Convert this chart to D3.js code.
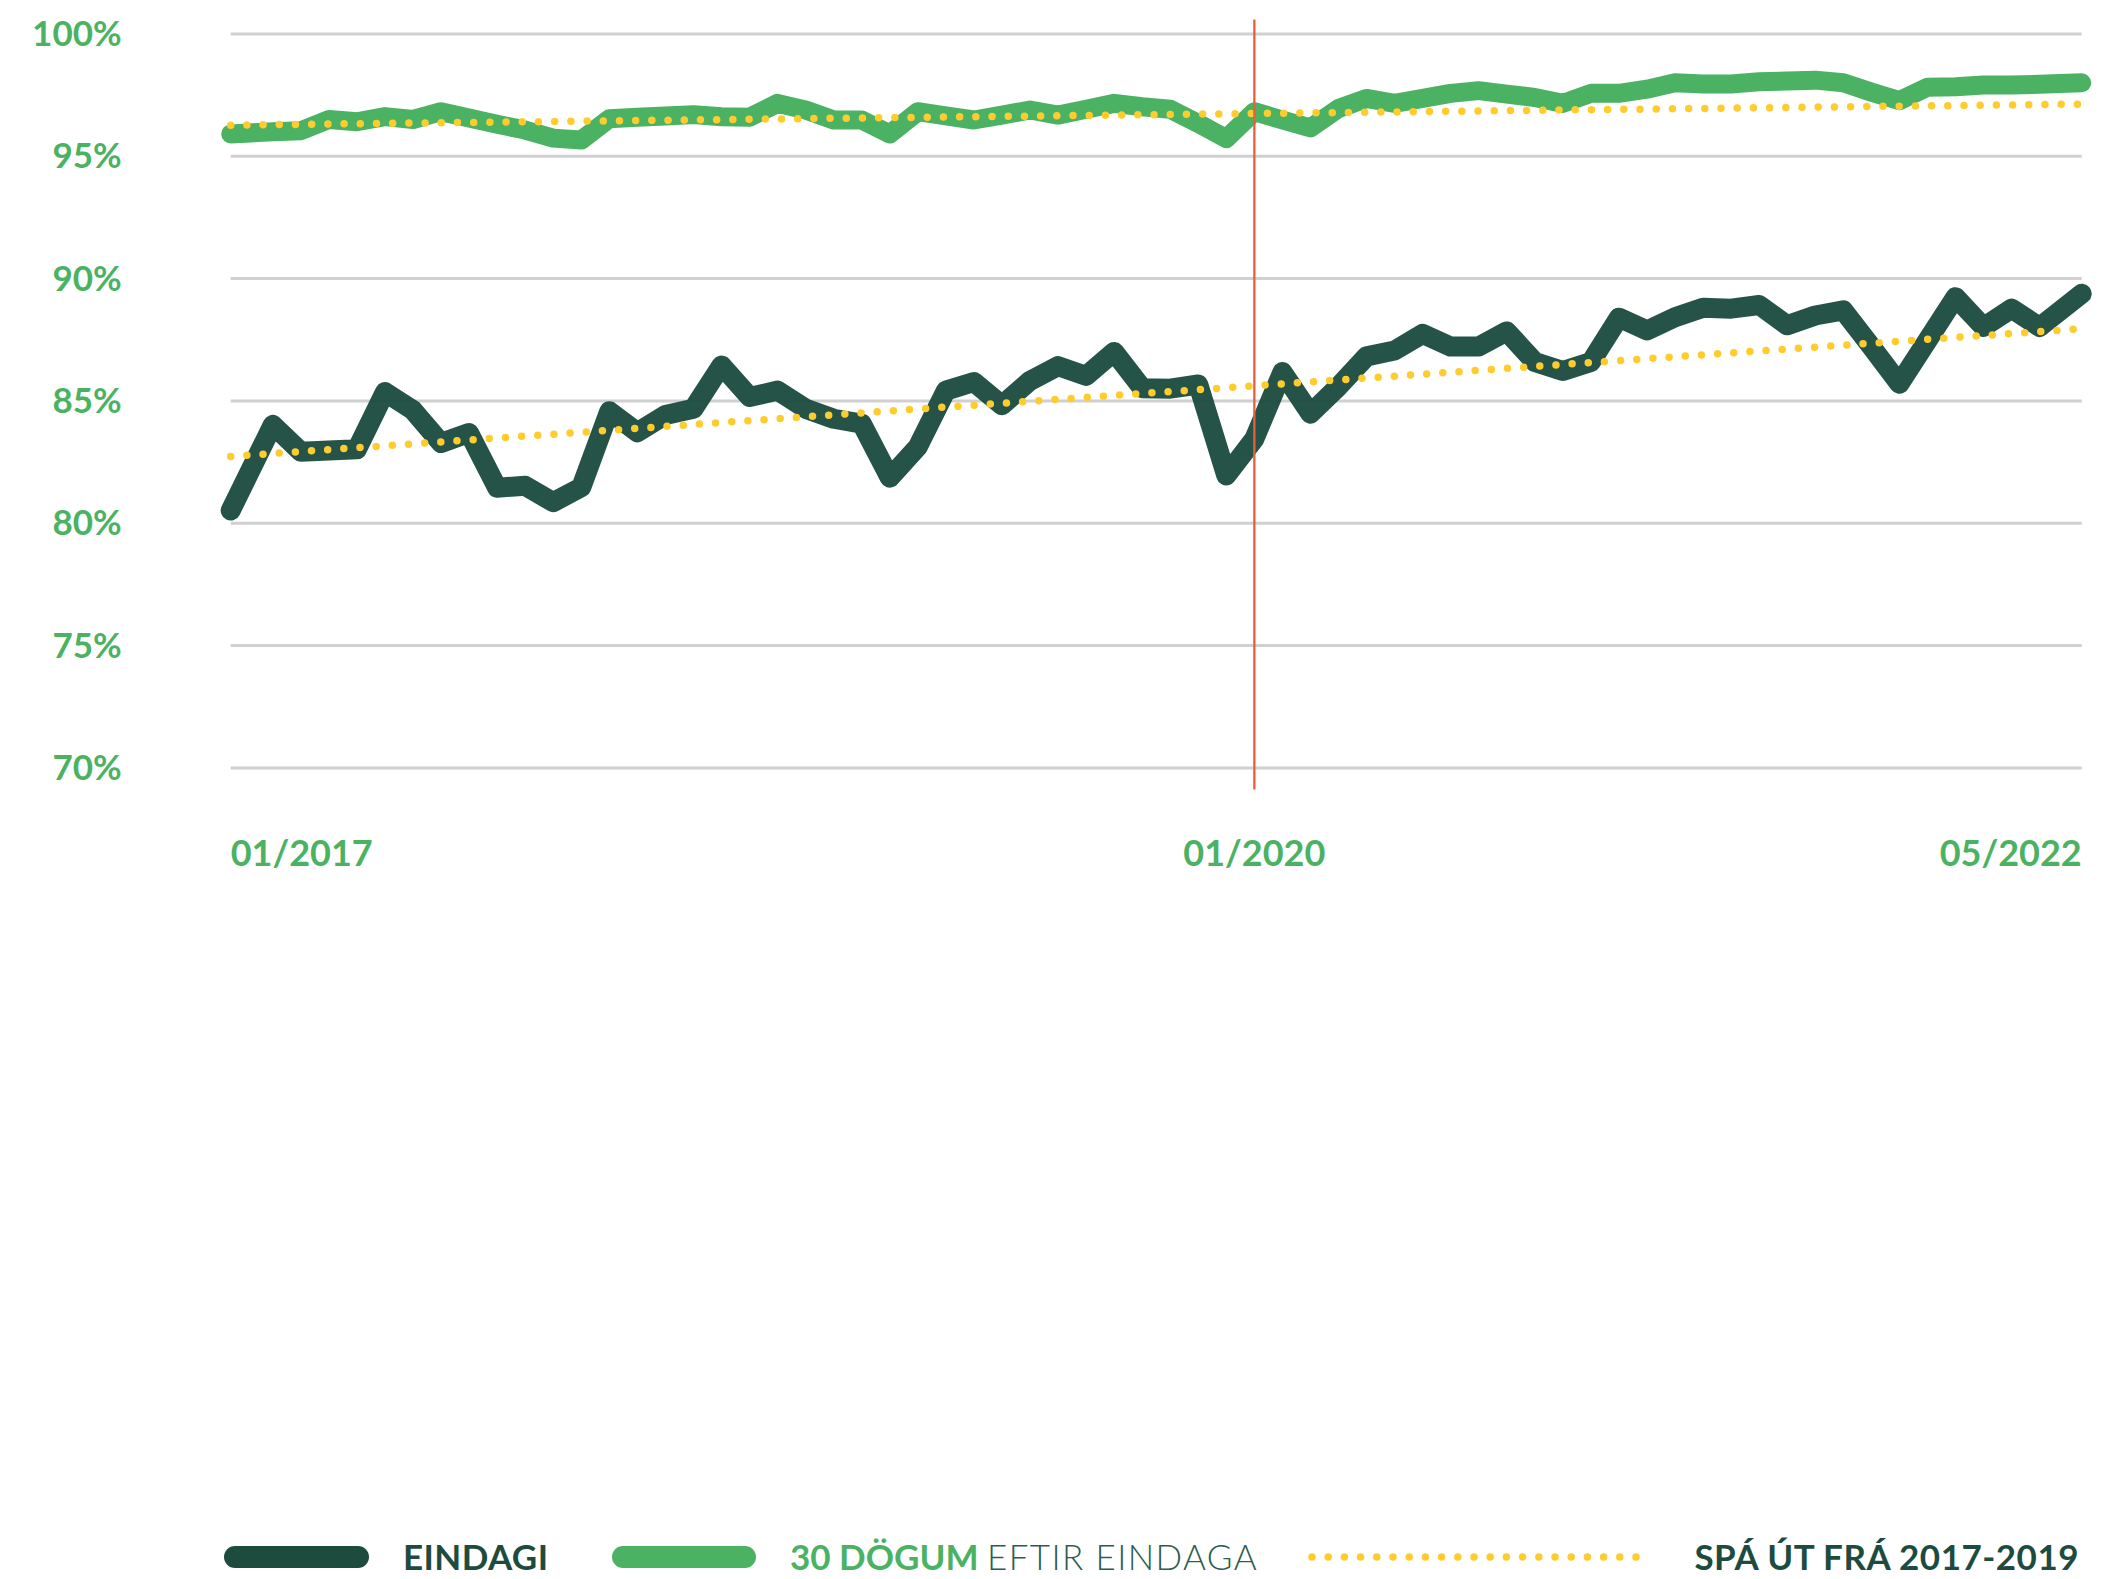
<!DOCTYPE html>
<html>
<head>
<meta charset="utf-8">
<script src="https://cdn.jsdelivr.net/npm/d3@7"></script>
<style>
  html, body { margin: 0; padding: 0; background: #ffffff; }
  svg { display: block; }
</style>
</head>
<body>
<svg id="chart" width="2126" height="1579"></svg>
<script>
// ---------------- DATA ----------------
// Monthly share paid (%), first point 01/2017, 01/2020 at index 36
const eindagi = [80.5, 84.0, 82.9, 82.95, 83.0, 85.34, 84.6, 83.26, 83.67, 81.43, 81.51, 80.84, 81.45, 84.56, 83.7, 84.4,
  84.66, 86.43, 85.14, 85.4, 84.66, 84.25, 84.05, 81.84, 83.1, 85.4, 85.75, 84.8, 85.8, 86.4, 86.0, 86.98,
  85.5, 85.48, 85.65, 81.93, 83.43, 86.16, 84.46, 85.57, 86.8, 87.04, 87.72, 87.2, 87.2, 87.82, 86.57, 86.2,
  86.57, 88.38, 87.86, 88.4, 88.79, 88.75, 88.9, 88.07, 88.47, 88.68, 87.2, 85.68, 87.45, 89.22, 88.0, 88.75,
  88.0, 89.36];
const dogum30 = [95.89, 95.98, 96.02, 96.48, 96.39, 96.6, 96.48, 96.8, 96.54, 96.29, 96.05, 95.72, 95.64, 96.51, 96.57, 96.62,
  96.68, 96.59, 96.57, 97.14, 96.87, 96.46, 96.46, 95.89, 96.8, 96.63, 96.46, 96.66, 96.87, 96.66, 96.9, 97.14,
  97.0, 96.9, 96.32, 95.7, 96.8, 96.46, 96.14, 96.93, 97.34, 97.14, 97.34, 97.55, 97.66, 97.52, 97.38, 97.14,
  97.55, 97.55, 97.72, 97.98, 97.93, 97.93, 98.02, 98.05, 98.09, 97.98, 97.6, 97.25, 97.8, 97.82, 97.89, 97.89,
  97.92, 97.98];
// Forecast from 2017-2019 (straight trend, value at first and last point)
const trendEindagi = [82.71, 87.93];
const trend30 = [96.25, 97.11];
// x tick labels and the point index each one sits at
const xTickLabels = ["01/2017", "01/2020", "05/2022"];
const xTickIndex = [0, 36, 65];
const markerIndex = 36; // 01/2020 vertical marker
const yTicks = [70, 75, 80, 85, 90, 95, 100];
const legendLabels = ["EINDAGI", "30 DÖGUM", "EFTIR EINDAGA", "SPÁ ÚT FRÁ 2017-2019"];

// ---------------- LAYOUT ----------------
const C = {
  dark: "#1d4c3f", green: "#4bb263", yellow: "#ffcc2e", red: "#ea5f3a",
  grid: "#d0d0d0", light: "#2d5d50"
};
const FONT = "Lato, 'Open Sans', 'DejaVu Sans', sans-serif";
const L = 230.7, R = 2081.7, TOP = 33.4, BOT = 767.4;
const n = eindagi.length;
const s = (R - L) / n;

const svg = d3.select("#chart");

// end points sit 1.5 steps from their neighbours, as in the original
const x = d3.scaleLinear()
  .domain([0, 1, n - 2, n - 1])
  .range([L, L + 1.5 * s, R - 1.5 * s, R]);
const y = d3.scaleLinear().domain([70, 100]).range([BOT, TOP]);

// y axis with gridlines
const yAxis = svg.append("g")
  .attr("transform", `translate(${L},0)`)
  .call(d3.axisLeft(y)
    .tickValues(yTicks)
    .tickFormat(d => d + "%")
    .tickSize(-(R - L))
    .tickPadding(L - 121.7));
yAxis.select(".domain").remove();
yAxis.selectAll(".tick line").attr("stroke", C.grid).attr("stroke-width", 3);
yAxis.selectAll(".tick text")
  .attr("fill", C.green)
  .attr("font-family", FONT)
  .attr("font-weight", 700)
  .attr("font-size", 35)
  .attr("dy", "0.35em");

// lines
const line = d3.line().x((d, i) => x(i)).y(d => y(d));

svg.append("path")
  .datum(eindagi)
  .attr("d", line)
  .attr("fill", "none")
  .attr("stroke", C.dark)
  .attr("stroke-opacity", 0.96)
  .attr("stroke-width", 20)
  .attr("stroke-linejoin", "round")
  .attr("stroke-linecap", "round");

svg.append("path")
  .datum(dogum30)
  .attr("d", line)
  .attr("fill", "none")
  .attr("stroke", C.green)
  .attr("stroke-width", 19)
  .attr("stroke-linejoin", "round")
  .attr("stroke-linecap", "round");

// trend (forecast) dotted lines
const trendLine = d3.line().x((d, i) => x(i === 0 ? 0 : n - 1)).y(d => y(d));
[trendEindagi, trend30].forEach(t => {
  svg.append("path")
    .datum(t)
    .attr("d", trendLine)
    .attr("fill", "none")
    .attr("stroke", C.yellow)
    .attr("stroke-width", 7.5)
    .attr("stroke-linecap", "round")
    .attr("stroke-dasharray", "0 16.2");
});

// 01/2020 marker
svg.append("line")
  .attr("x1", x(markerIndex)).attr("x2", x(markerIndex))
  .attr("y1", y(100) - 14).attr("y2", y(70) + 22)
  .attr("stroke", C.red)
  .attr("stroke-width", 2.3);

// x labels
const anchors = ["start", "middle", "end"];
svg.append("g").selectAll("text")
  .data(xTickLabels)
  .join("text")
  .attr("x", (d, i) => x(xTickIndex[i]))
  .attr("y", 866)
  .attr("text-anchor", (d, i) => anchors[i])
  .attr("fill", C.green)
  .attr("font-family", FONT)
  .attr("font-weight", 700)
  .attr("font-size", 36)
  .text(d => d);

// ---------------- LEGEND ----------------
const LY = 1557;
const lg = svg.append("g");
lg.append("rect").attr("x", 224).attr("y", LY - 11).attr("width", 145).attr("height", 22).attr("rx", 11)
  .attr("fill", C.dark);
lg.append("text").attr("x", 403).attr("y", LY + 12.5)
  .attr("fill", C.dark).attr("font-family", FONT).attr("font-weight", 700).attr("font-size", 35)
  .attr("letter-spacing", 0.4)
  .text(legendLabels[0]);

lg.append("rect").attr("x", 612).attr("y", LY - 11).attr("width", 144).attr("height", 22).attr("rx", 11)
  .attr("fill", C.green);
const t2 = lg.append("text").attr("x", 790).attr("y", LY + 12.5)
  .attr("font-family", FONT).attr("font-size", 35);
t2.append("tspan").attr("fill", C.green).attr("font-weight", 700).text(legendLabels[1] + " ");
t2.append("tspan").attr("fill", C.light).attr("font-weight", 300).attr("letter-spacing", 1.4).text(legendLabels[2]);

lg.append("line").attr("x1", 1312).attr("x2", 1652).attr("y1", LY).attr("y2", LY)
  .attr("stroke", C.yellow).attr("stroke-width", 7.5).attr("stroke-linecap", "round")
  .attr("stroke-dasharray", "0 16.2");
lg.append("text").attr("x", 2079).attr("y", LY + 12.5).attr("text-anchor", "end")
  .attr("fill", C.dark).attr("font-family", FONT).attr("font-weight", 700).attr("font-size", 35)
  .attr("letter-spacing", 0.5)
  .text(legendLabels[3]);
</script>
</body>
</html>
